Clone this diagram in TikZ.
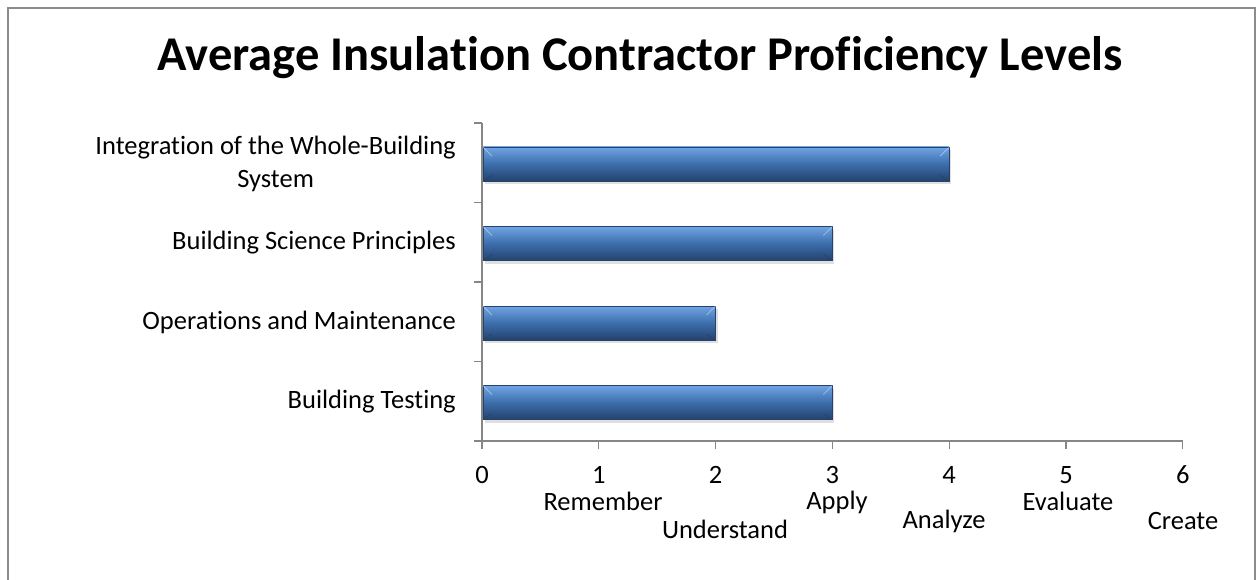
\documentclass[tikz,border=0pt]{standalone}
\usepackage{fontspec}
\setmainfont{Carlito}[Ligatures=NoCommon]
\usepackage{tikz}
\usetikzlibrary{shadows, calc}
\definecolor{axisgray}{RGB}{134,134,134}
\definecolor{framegray}{RGB}{140,140,140}
\definecolor{barlight}{RGB}{112,164,226}
\definecolor{barmid}{RGB}{60,110,172}
\definecolor{bardark}{RGB}{36,66,108}

\begin{document}
\begin{tikzpicture}[x=1pt, y=-1pt,
    lbl/.style={font=\fontsize{26.5}{33}\selectfont, inner sep=0pt},
    bar/.style={top color=barlight, bottom color=bardark, middle color=barmid, draw=bardark, line width=0.8pt,
        drop shadow={opacity=0.25, shadow xshift=2pt, shadow yshift=-3pt}}]
    \useasboundingbox (0,0) rectangle (1257,580);
    % outer frame (bottom edge cut off)
    \draw[framegray, line width=1.6pt] (8,580) -- (8,8) -- (1255,8) -- (1255,580);

    \node[font=\bfseries\fontsize{48.5}{52}\selectfont, anchor=base] (title) at (640,71) {Average Insulation Contractor Proficiency Levels};

    % axes
    \draw[axisgray, line width=1.2pt] (482,123) coordinate (ytop) -- (482,441) coordinate (org) -- (1183,441) coordinate (xend);
    \foreach \y in {123,202.5,282,361.5,441}
        \draw[axisgray, line width=1.2pt] (474,\y) -- (482,\y);
    \foreach \k in {0,...,6}{
        \draw[axisgray, line width=1.2pt] (482+116.8*\k,441) -- ++(0,8);
        \node[lbl] (n\k) at (482+116.8*\k,475) {\k};
    }

    % bars
    \foreach \yc/\val [count=\i] in {164/4,243.5/3,323/2,402.5/3}{
        \pgfmathsetmacro{\xe}{482+116.8*\val}
        \path[bar] (483,\yc-17) rectangle (\xe,\yc+17);
        \draw[white, opacity=0.4, line width=0.8pt] (483,\yc-17) -- ++(9,9) (\xe,\yc-17) -- ++(-9,9);
        \draw[bardark, opacity=0.7, line width=0.8pt] (483,\yc+17) -- ++(9,-6) (\xe,\yc+17) -- ++(-9,-6);
    }

    % category labels
    \node[lbl, anchor=east, align=center] (cat1) at (456,163.5) {Integration of the Whole-Building\\System};
    \node[lbl, anchor=east] (cat2) at (456,243) {Building Science Principles};
    \node[lbl, anchor=east] (cat3) at (456,322.5) {Operations and Maintenance};
    \node[lbl, anchor=east] (cat4) at (456,402) {Building Testing};

    % level names
    \node[lbl] (lvl1) at (603,501) {Remember};
    \node[lbl] (lvl2) at (725,529) {Understand};
    \node[lbl] (lvl3) at (837,502) {Apply};
    \node[lbl] (lvl4) at (944,521) {Analyze};
    \node[lbl] (lvl5) at (1068,501) {Evaluate};
    \node[lbl] (lvl6) at (1183,521) {Create};
\end{tikzpicture}
\end{document}
